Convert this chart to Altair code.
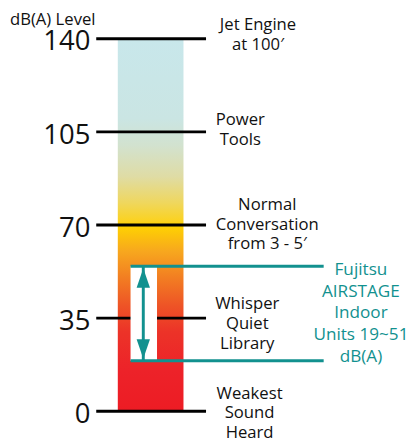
import altair as alt
import pandas as pd

# ---- data ----
levels = [0, 35, 70, 105, 140]
level_labels = ["0", "35", "70", "105", "140"]
descriptions = [
    "Weakest\nSound\nHeard",
    "Whisper\nQuiet\nLibrary",
    "Normal\nConversation\nfrom 3 - 5\u2032",
    "Power\nTools",
    "Jet Engine\nat 100\u2032",
]
scale_min, scale_max = 0, 140
unit_low, unit_high = 19, 54.5          # drawn extent of the teal bracket
unit_text = "Fujitsu\nAIRSTAGE\nIndoor\nUnits 19~51\ndB(A)"
axis_title = "dB(A) Level"

grad_offsets = [0.0, 0.214, 0.286, 0.37, 0.44, 0.49, 0.5, 0.571, 0.643, 0.714, 0.786, 0.893, 1.0]
grad_colors = ["#c8e7eb", "#cae5e3", "#d2e2cf", "#dfdca5", "#efd75e", "#fbd21f", "#ffd400",
               "#f7a71e", "#f27d22", "#ee5526", "#ec3328", "#ed2229", "#ed1c24"]

TEAL = "#12918f"
FONT = "Open Sans"
DESC_SIZE, DESC_LH = 17, 20
UNIT_LH = 22
# small vertical nudges of the description blocks (px), same order as levels
desc_nudge = [2, 6, 0, -2, -4]

# ---- layout helpers ----
W, H = 407, 380
ysc = alt.Scale(domain=[scale_min, scale_max], nice=False, zero=False)


def text_width(s, size):
    narrow = set("ijlt fr.,-'\u2032I")
    wide = set("mwMW")
    w = 0
    for ch in s:
        if ch in narrow:
            w += 0.3
        elif ch in wide:
            w += 0.85
        elif ch.isupper():
            w += 0.63
        else:
            w += 0.58
    return w * size


level_df = pd.DataFrame({"level": levels, "label": level_labels, "desc": descriptions})
bar_df = pd.DataFrame({"lo": [scale_min], "hi": [scale_max]})
unit_df = pd.DataFrame({"lo": [unit_low], "hi": [unit_high]})
edge_df = pd.DataFrame({"v": [unit_low, unit_high]})

grad = alt.LinearGradient(
    gradient="linear",
    stops=[alt.GradientStop(offset=o, color=c) for o, c in zip(grad_offsets, grad_colors)],
    x1=0, x2=0, y1=0, y2=1,
)

bar = alt.Chart(bar_df).mark_rect(color=grad).encode(
    x=alt.value(112), x2=alt.value(179),
    y=alt.Y("hi:Q", scale=ysc, axis=None), y2="lo:Q",
)

ticks = alt.Chart(level_df).mark_rule(color="black", strokeWidth=3).encode(
    x=alt.value(90), x2=alt.value(202), y=alt.Y("level:Q", scale=ysc, axis=None),
)

nums = alt.Chart(level_df).mark_text(
    align="right", baseline="middle", fontSize=28, font=FONT, dy=4, color="#111"
).encode(x=alt.value(84), y=alt.Y("level:Q", scale=ysc, axis=None), text="label:N")

white = alt.Chart(unit_df).mark_rect(color="white").encode(
    x=alt.value(125), x2=alt.value(152),
    y=alt.Y("hi:Q", scale=ysc, axis=None), y2="lo:Q",
)

edges = alt.Chart(edge_df).mark_rule(color=TEAL, strokeWidth=3).encode(
    x=alt.value(125), x2=alt.value(322), y=alt.Y("v:Q", scale=ysc, axis=None),
)

shaft = alt.Chart(unit_df).mark_rule(color=TEAL, strokeWidth=3).encode(
    x=alt.value(138), y=alt.Y("lo:Q", scale=ysc, axis=None), y2="hi:Q",
)

head_up = alt.Chart(unit_df).mark_point(
    shape="M0,0.2 L0.68,2.2 L-0.68,2.2 Z", filled=True, size=400, color=TEAL, opacity=1
).encode(x=alt.value(138), y=alt.Y("hi:Q", scale=ysc, axis=None))

head_down = alt.Chart(unit_df).mark_point(
    shape="M0,-0.2 L0.68,-2.2 L-0.68,-2.2 Z", filled=True, size=400, color=TEAL, opacity=1
).encode(x=alt.value(138), y=alt.Y("lo:Q", scale=ysc, axis=None))

desc_layers = []
for lev, d, nudge in zip(levels, descriptions, desc_nudge):
    lines = d.split("\n")
    bw = max(text_width(s, DESC_SIZE) for s in lines)
    cx = 212 + bw / 2
    sub = level_df[level_df["level"] == lev]
    desc_layers.append(
        alt.Chart(sub).transform_calculate(lines="split(datum.desc, '\\n')").mark_text(
            align="center", baseline="middle", fontSize=DESC_SIZE, font=FONT,
            lineHeight=DESC_LH, color="#111", dy=-(len(lines) - 1) * DESC_LH / 2 + nudge,
        ).encode(x=alt.value(cx), y=alt.Y("level:Q", scale=ysc, axis=None), text="lines:N")
    )

n_unit = len(unit_text.split("\n"))
unit_label = alt.Chart(unit_df).transform_calculate(
    mid="(datum.lo + datum.hi) / 2", lines="split('" + unit_text.replace("\n", "\\n") + "', '\\n')"
).mark_text(
    align="center", baseline="middle", fontSize=17.5, font=FONT, lineHeight=UNIT_LH, color=TEAL,
    dy=-(n_unit - 1) * UNIT_LH / 2,
).encode(x=alt.value(360), y=alt.Y("mid:Q", scale=ysc, axis=None), text="lines:N")

title = alt.Chart(bar_df).mark_text(
    align="left", baseline="middle", fontSize=17, font=FONT, color="#111"
).encode(x=alt.value(2), y=alt.value(-19), text=alt.value(axis_title))

chart = alt.layer(
    bar, ticks, white, edges, shaft, head_up, head_down, nums, *desc_layers, unit_label, title
).properties(
    width=W, height=H,
    autosize=alt.AutoSizeParams(type="none"),
    padding={"left": 0, "right": 0, "top": 27, "bottom": 27},
).configure_view(stroke=None)

chart.save("out.html", embed_options={"renderer": "svg", "actions": False})
